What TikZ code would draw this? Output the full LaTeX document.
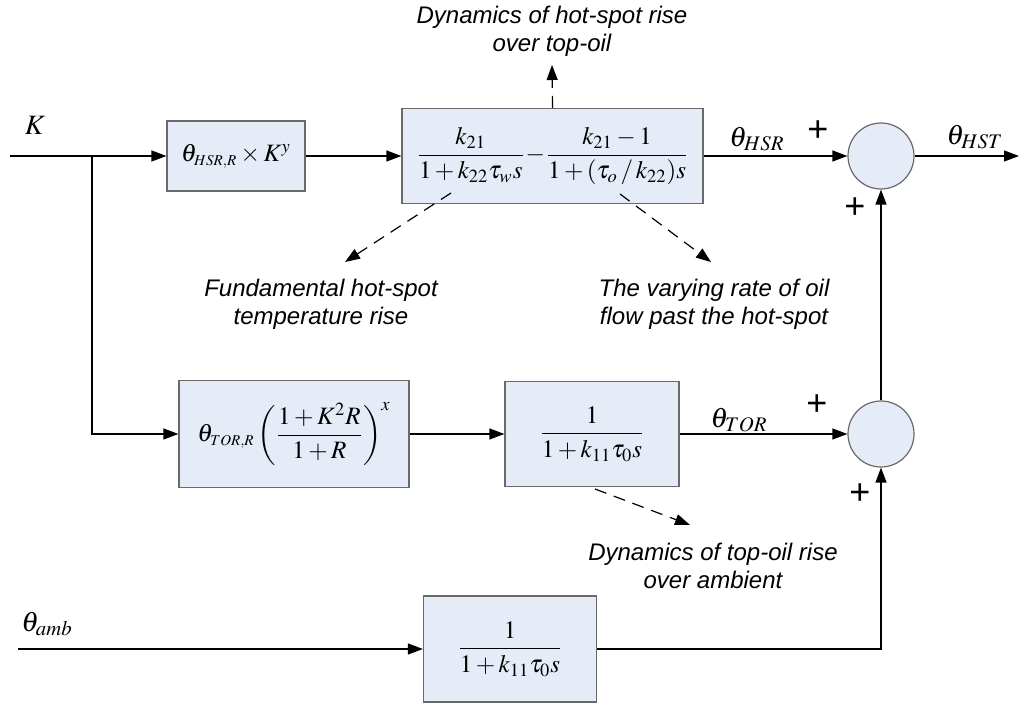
\documentclass[tikz,border=0pt]{standalone}
\usepackage{amsmath}
\usepackage{mathptmx}
\usepackage{fontspec}
\newfontfamily\annfont{Liberation Sans}
\usetikzlibrary{arrows.meta,calc}
\definecolor{boxfill}{RGB}{230,236,247}
\definecolor{boxgray}{RGB}{105,105,105}
\begin{document}
\begin{tikzpicture}[x=0.5pt,y=-0.5pt,
  blk/.style={draw=boxgray, fill=boxfill, line width=0.6pt, inner sep=0pt, font=\fontsize{12.5}{14}\selectfont},
  sumc/.style={circle, draw=boxgray, fill=boxfill, line width=0.6pt, minimum size=33pt, inner sep=0pt},
  sig/.style={line width=0.6pt, -{Triangle[length=7.5pt,width=5.5pt]}},
  note/.style={line width=0.6pt, dash pattern=on 6pt off 4pt, -{Triangle[length=7.5pt,width=5.5pt]}},
  ann/.style={font=\annfont\itshape\fontsize{12}{14}\selectfont, align=center, inner sep=0pt},
  lab/.style={font=\fontsize{14}{16}\selectfont, inner sep=0pt},
  plus/.style={font=\annfont\fontsize{18}{18}\selectfont, inner sep=0pt}
]
\useasboundingbox (0,0) rectangle (1019,705);

% blocks
\node[blk, minimum width=69pt, minimum height=35pt] (b1) at (236,156) {$\theta_{\scriptscriptstyle HSR,R}\times K^{y}$};
\node[blk, minimum width=150.5pt, minimum height=47.5pt] (b2) at (552.5,156)
  {$\dfrac{k_{21}}{1+k_{22}\tau_w s}\!-\!\dfrac{k_{21}-1}{1+(\tau_o\,/\,k_{22})s}$};
\node[blk, minimum width=115pt, minimum height=53.5pt] (b3) at (294,434)
  {$\theta_{\scriptscriptstyle TOR,R}\left(\dfrac{1+K^{2}R}{1+R}\right)^{x}$};
\node[blk, minimum width=87pt, minimum height=52.5pt] (b4) at (592,434) {$\dfrac{1}{1+k_{11}\tau_0 s}$};
\node[blk, minimum width=86.5pt, minimum height=53pt] (b5) at (510,649) {$\dfrac{1}{1+k_{11}\tau_0 s}$};

% summing junctions
\node[sumc] (s1) at (881,156) {};
\node[sumc] (s2) at (881,434) {};

% coordinates
\coordinate (kin) at (10,156);
\coordinate (br) at (92,156);
\coordinate (out) at (1019,156);
\coordinate (ambin) at (18,649);
\coordinate (n1e) at (552,65);
\coordinate (n2s) at (451,193);
\coordinate (n2e) at (345,262);
\coordinate (n3s) at (620,194);
\coordinate (n3e) at (711,262);
\coordinate (n4s) at (595,489);
\coordinate (n4e) at (690,525);

% signal lines
\draw[sig] (kin) -- (b1);
\draw[sig] (br) |- (b3.west);
\draw[sig] (b1) -- (b2);
\draw[sig] (b2) -- (s1);
\draw[sig] (s1) -- (out);
\draw[sig] (b3) -- (b4);
\draw[sig] (b4) -- (s2);
\draw[sig] (s2) -- (s1);
\draw[sig] (b5.east) -| (s2.south);
\draw[sig] (ambin) -- (b5);

% annotation arrows
\draw[note] (b2.north) -- (n1e);
\draw[note] (n2s) -- (n2e);
\draw[note] (n3s) -- (n3e);
\draw[note] (n4s) -- (n4e);

% labels
\node[lab] (lk) at (35,125) {$K$};
\node[lab] (lamb) at (47,624) {$\theta_{amb}$};
\node[lab] (lhsr) at (757,139) {$\theta_{HSR}$};
\node[lab] (lhst) at (975,137) {$\theta_{HST}$};
\node[lab] (ltor) at (739,420) {$\theta_{TOR}$};
\node[plus] (p1) at (818,131) {+};
\node[plus] (p2) at (855,208) {+};
\node[plus] (p3) at (817,405) {+};
\node[plus] (p4) at (860,494) {+};

% annotation texts
\node[ann] (a1) at (552,31) {Dynamics of hot-spot rise\\over top-oil};
\node[ann] (a2) at (321,304) {Fundamental hot-spot\\temperature rise};
\node[ann] (a3) at (714,304) {The varying rate of oil\\flow past the hot-spot};
\node[ann] (a4) at (713,566) {Dynamics of top-oil rise\\over ambient};
\end{tikzpicture}
\end{document}
